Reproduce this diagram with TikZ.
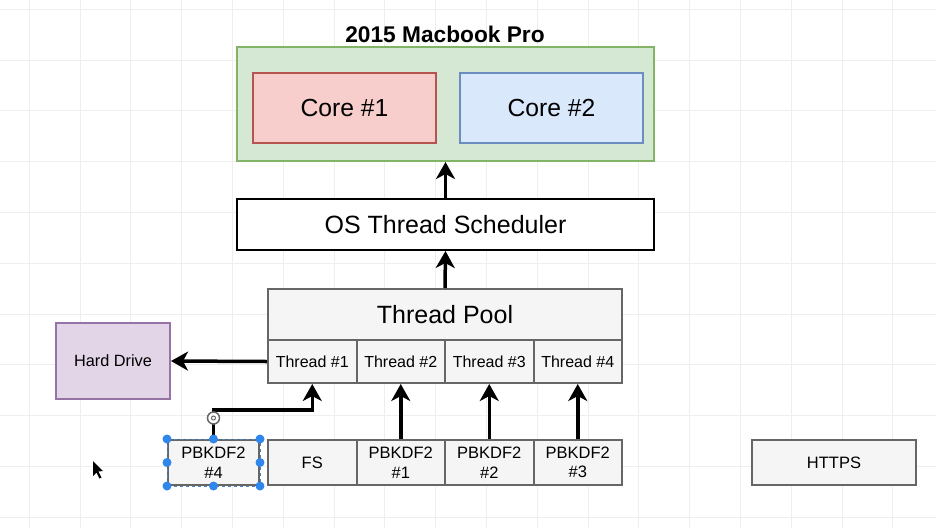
\documentclass[tikz,border=0pt]{standalone}
\usepackage{fontspec}
\setmainfont{Liberation Sans}
\usetikzlibrary{arrows.meta}
\definecolor{macfill}{HTML}{D5E8D4}
\definecolor{macline}{HTML}{82B366}
\definecolor{redfill}{HTML}{F8CECC}
\definecolor{redline}{HTML}{B85450}
\definecolor{bluefill}{HTML}{DAE8FC}
\definecolor{blueline}{HTML}{6C8EBF}
\definecolor{purfill}{HTML}{E1D5E7}
\definecolor{purline}{HTML}{9673A6}
\definecolor{grayfill}{HTML}{F5F5F5}
\definecolor{grayline}{HTML}{666666}
\definecolor{selblue}{HTML}{2F86EB}
\definecolor{gridc}{HTML}{EEEEEE}
\newcommand{\fs}[1]{\fontsize{#1}{19.5}\selectfont}
\tikzset{
  bx/.style={draw, line width=2pt, inner sep=0pt, align=center},
  gbox/.style={bx, fill=grayfill, draw=grayline},
  cell/.style={gbox, minimum width=88.5pt, minimum height=43pt, font=\fs{16}},
  job/.style={gbox, minimum width=88.5pt, minimum height=45pt, font=\fs{16.5}},
  arr/.style={line width=3.5pt, -{Stealth[length=17pt,width=19pt,inset=5pt]}},
  handle/.style={circle, fill=selblue, inner sep=0pt, minimum size=9pt},
}
\begin{document}
\begin{tikzpicture}[x=1pt,y=-1pt]
\useasboundingbox (0,0) rectangle (936,528);
\fill[white] (0,0) rectangle (936,528);
% grid
\foreach \gx in {29,80,130,181,232,283,334,384,435,486,537,588,638,689,740,791,842,892} {
  \draw[gridc, line width=0.8pt] (\gx,0) -- (\gx,528);
}
\foreach \gy in {9,60,110,161,212,263,314,364,415,466,517} {
  \draw[gridc, line width=0.8pt] (0,\gy) -- (936,\gy);
}
% title
\node[font=\fs{22.7}\bfseries] (title) at (445,34) {2015 Macbook Pro};
% macbook
\node[bx, fill=macfill, draw=macline, minimum width=417pt, minimum height=114pt] (mac) at (445.5,104) {};
\node[bx, fill=redfill, draw=redline, minimum width=183pt, minimum height=70pt, font=\fs{24.7}] (core1) at (344.5,108) {Core \#1};
\node[bx, fill=bluefill, draw=blueline, minimum width=183pt, minimum height=70pt, font=\fs{24.7}] (core2) at (551.5,108) {Core \#2};
% scheduler
\node[bx, fill=white, draw=black, minimum width=417pt, minimum height=51pt, font=\fs{25}] (os) at (445.5,224.5) {OS Thread Scheduler};
% pool
\node[gbox, minimum width=354pt, minimum height=51pt, font=\fs{25}] (pool) at (445,314.5) {Thread Pool};
\node[cell] (t1) at (312.25,361.5) {Thread \#1};
\node[cell] (t2) at (400.75,361.5) {Thread \#2};
\node[cell] (t3) at (489.25,361.5) {Thread \#3};
\node[cell] (t4) at (577.75,361.5) {Thread \#4};
% hard drive
\node[bx, fill=purfill, draw=purline, minimum width=114pt, minimum height=76pt, font=\fs{16.3}] (hd) at (113,361) {Hard Drive};
% bottom row
\node[job, minimum width=91pt] (p4) at (213.5,462.5) {PBKDF2\\\#4};
\node[job] (fsn) at (312.25,462.5) {FS};
\node[job] (p1) at (400.75,462.5) {PBKDF2\\\#1};
\node[job] (p2) at (489.25,462.5) {PBKDF2\\\#2};
\node[job] (p3) at (577.75,462.5) {PBKDF2\\\#3};
\node[job, minimum width=164pt] (https) at (834,462.5) {HTTPS};
% connectors
\draw[arr] (os.north) -- (mac.south);
\draw[arr] (pool.north) -- (os.south);
\draw[arr] (t1.west) -- (hd.east);
\draw[arr] (p1.north) -- (t2.south);
\draw[arr] (p2.north) -- (t3.south);
\draw[arr] (p3.north) -- (t4.south);
\coordinate (bend) at (213.5,410);
\draw[arr] (p4.north) -- (bend) -| (t1.south);
% selection decoration
\draw[selblue!60!gray, line width=1pt, dashed] (p4.north west) rectangle (p4.south east);
\foreach \a in {north west,north,north east,west,east,south west,south,south east}
  \node[handle] at (p4.\a) {};
\node[circle, draw=grayline, fill=white, line width=1.5pt, minimum size=12pt, inner sep=0pt] (conn) at (213.5,418) {};
\node[circle, draw=grayline, line width=1pt, minimum size=4pt, inner sep=0pt] at (conn) {};
% cursor
\fill[black] (93,461) -- (93,476) -- (96.5,472.5) -- (99.5,478.5) -- (101.5,477.5) -- (98.5,471.5) -- (103,471) -- cycle;
\end{tikzpicture}
\end{document}
